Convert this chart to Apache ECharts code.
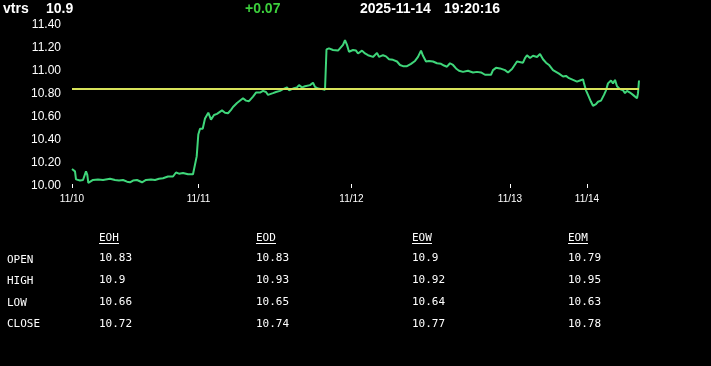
<!DOCTYPE html>
<html><head><meta charset="utf-8">
<script src="https://cdn.jsdelivr.net/npm/echarts@6/dist/echarts.min.js"></script>
<style>html,body{margin:0;padding:0;background:#000;}#c{width:711px;height:366px;}</style>
</head><body><div id="c"></div>
<script>
// ---- data ----
var ticker = 'vtrs';
var lastPrice = '10.9';
var change = '+0.07';
var dateStr = '2025-11-14';
var timeStr = '19:20:16';
var refLevel = 10.83;
// time steps (session-time units) and prices
var t = [0,3,4,6,8,11,14,15.3,16.3,18,21,26,31,38,43,47,51,55,58,61,65,70,74,79,83,87,91,96,101,104,107,111,116,121,123,124.7,126.3,128,130.7,133,136.3,139,142,145,150,153,156,159,161,165,167,171,174,177,181,184,188,191,194,196,201,204,208,211,215,217,221,225,227,230,233,235,238,241,243,246,250,253,254.5,257,261,266,268,271,273,275,277,281,284,286,290,293,296,301,303,305,307,311,314,317,321,323,325,328,331,335,339,343,346,349,351,354,357,361,365,369,372,375,378,381,384,387,391,396,401,405,409,413,419,421,424,428,433,436,440,442,445,447,451,453,455,458,461,463,465,468,471,474,477,481,484,487,491,494,497,501,503,505,508,511,512,514,516,519,521,524,526,529,531,532,534,536,539,541,543,545,548,551,553,555,558,561,563,565,566,567];
var price = [10.13,10.11,10.04,10.03,10.03,10.035,10.11,10.08,10.01,10.005,10.035,10.04,10.035,10.045,10.035,10.03,10.035,10.02,10.015,10.03,10.035,10.015,10.035,10.04,10.035,10.045,10.05,10.065,10.065,10.10,10.09,10.095,10.085,10.085,10.075,10.24,10.43,10.48,10.48,10.57,10.62,10.56,10.60,10.61,10.64,10.62,10.615,10.645,10.67,10.705,10.70,10.745,10.725,10.72,10.76,10.795,10.795,10.81,10.80,10.775,10.79,10.80,10.81,10.825,10.84,10.815,10.83,10.84,10.86,10.84,10.85,10.84,10.86,10.88,10.845,10.83,10.825,10.82,11.17,11.18,11.165,11.16,11.16,11.21,11.25,11.21,11.15,11.165,11.16,11.135,11.16,11.135,11.12,11.105,11.10,11.14,11.105,11.12,11.11,11.085,11.08,11.09,11.065,11.035,11.025,11.025,11.045,11.07,11.105,11.16,11.115,11.065,11.07,11.065,11.05,11.045,11.03,11.02,11.05,11.035,11.005,10.985,10.975,10.985,10.97,10.975,10.97,10.95,10.95,10.99,11.01,11.005,10.99,10.97,11.00,11.015,11.065,11.05,11.055,11.095,11.12,11.095,11.115,11.10,11.105,11.13,11.085,11.055,11.035,10.99,10.975,10.96,10.935,10.94,10.92,10.905,10.91,10.89,10.90,10.91,10.875,10.815,10.775,10.715,10.68,10.695,10.715,10.725,10.73,10.775,10.815,10.875,10.90,10.875,10.905,10.85,10.825,10.815,10.79,10.81,10.795,10.775,10.76,10.745,10.79,10.90];
var dayTickPos = [0,126.5,279.5,438,515];
var dayLabels = ['11/10','11/11','11/12','11/13','11/14'];
var tMax = 567;
// table
var colNames = ['EOH','EOD','EOW','EOM'];
var rowNames = ['OPEN','HIGH','LOW','CLOSE'];
var eoh = ['10.83','10.9','10.66','10.72'];
var eod = ['10.83','10.93','10.65','10.74'];
var eow = ['10.9','10.92','10.64','10.77'];
var eom = ['10.79','10.95','10.63','10.78'];

// ---- chart ----
var series = t.map(function(x,i){return [x, price[i]];});
var colVals = [eoh,eod,eow,eom];
var colX = [99,256,412,568];
var rowY = [258,280,302,324];
var rowLabelY = [260,281,303,324];
var mono = '"DejaVu Sans Mono", monospace';
var graphics = [];
var hdrFont = 'bold 14px "Liberation Sans", Arial, sans-serif';
graphics.push({type:'text', left:3, top:2, style:{text:ticker, font:hdrFont, fill:'#fff'}});
graphics.push({type:'text', left:46, top:2, style:{text:lastPrice, font:hdrFont, fill:'#fff'}});
graphics.push({type:'text', left:245, top:2, style:{text:change, font:hdrFont, fill:'#3ccf3c'}});
graphics.push({type:'text', left:360, top:2, style:{text:dateStr, font:hdrFont, fill:'#fff'}});
graphics.push({type:'text', left:444, top:2, style:{text:timeStr, font:hdrFont, fill:'#fff'}});
colNames.forEach(function(n,ci){
  graphics.push({type:'text', x:colX[ci], y:238, style:{text:n, font:'11px '+mono, fill:'#fff', textVerticalAlign:'middle'}});
  graphics.push({type:'line', shape:{x1:colX[ci], y1:243.5, x2:colX[ci]+20, y2:243.5}, style:{stroke:'#fff', lineWidth:1}});
  colVals[ci].forEach(function(v,ri){
    graphics.push({type:'text', x:colX[ci], y:rowY[ri], style:{text:v, font:'11px '+mono, fill:'#fff', textVerticalAlign:'middle'}});
  });
});
rowNames.forEach(function(n,ri){
  graphics.push({type:'text', x:7, y:rowLabelY[ri], style:{text:n, font:'11px '+mono, fill:'#fff', textVerticalAlign:'middle'}});
});

var chart = echarts.init(document.getElementById('c'));
chart.setOption({
  backgroundColor:'#000',
  animation:false,
  grid:{left:72, right:72, top:23, bottom:182, containLabel:false},
  xAxis:{type:'value', min:0, max:tMax,
    axisLine:{show:false},
    splitLine:{show:false},
    axisTick:{show:true, customValues:dayTickPos, length:4, lineStyle:{color:'#fff'}},
    axisLabel:{customValues:dayTickPos, color:'#fff', fontSize:10, margin:10,
      fontFamily:'"Liberation Sans", Arial, sans-serif',
      formatter:function(v){var i=dayTickPos.indexOf(v);return i>=0?dayLabels[i]:'';}}
  },
  yAxis:{type:'value', min:10, max:11.4, interval:0.2,
    axisLine:{show:false}, axisTick:{show:false}, splitLine:{show:false},
    axisLabel:{margin:11,
      formatter:function(v){return '{a|'+v.toFixed(2)+'}';},
      rich:{a:{color:'#fff', fontSize:12, padding:[4,0,0,0], fontFamily:'"Liberation Sans", Arial, sans-serif'}}}
  },
  series:[{type:'line', data:series, showSymbol:false, lineStyle:{color:'#3fd67a', width:2},
    markLine:{silent:true, symbol:'none', label:{show:false},
      lineStyle:{color:'#d8e35a', width:2, type:'solid'},
      data:[{yAxis:refLevel}]}
  }],
  graphic:graphics
});
</script></body></html>
